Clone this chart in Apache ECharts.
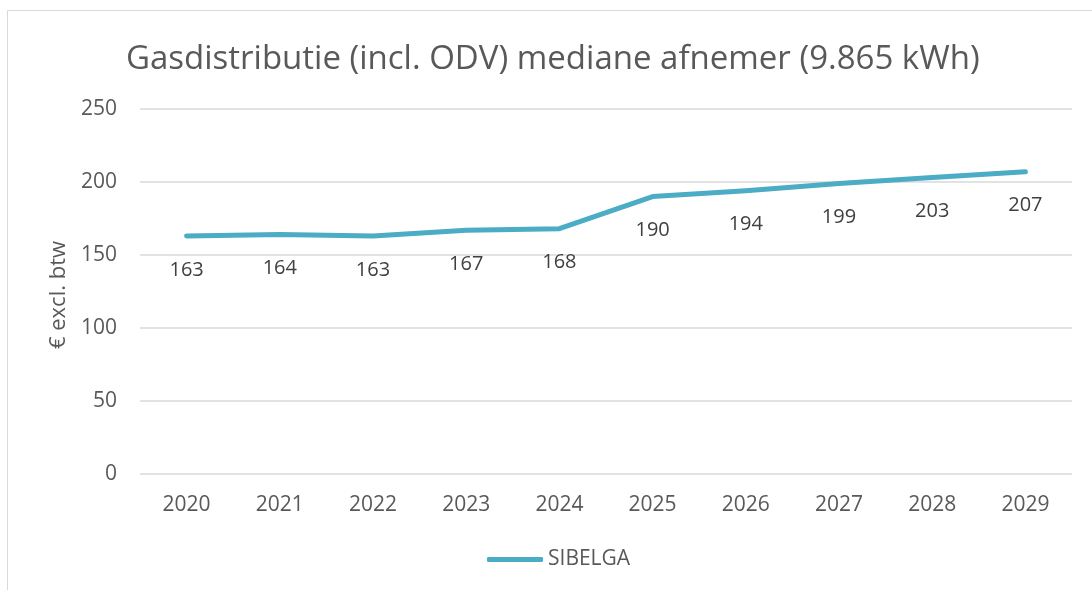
<!DOCTYPE html>
<html>
<head>
<meta charset="utf-8">
<script src="https://cdn.jsdelivr.net/npm/echarts@6/dist/echarts.min.js"></script>
<style>
  html, body { margin: 0; padding: 0; background: #fff; }
  #chart { width: 1092px; height: 590px; }
</style>
</head>
<body>
<div id="chart"></div>
<script>
const years = ['2020', '2021', '2022', '2023', '2024', '2025', '2026', '2027', '2028', '2029']
const sibelga = [163, 164, 163, 167, 168, 190, 194, 199, 203, 207]
const yTicks = { min: 0, max: 250, step: 50 }

const font = 'Open Sans'
const grey = '#595959'
const teal = '#4BACC6'

const chart = echarts.init(document.getElementById('chart'))

chart.setOption({
  animation: false,
  textStyle: { fontFamily: font },
  graphic: [
    // frame of the original chart, cut off at right and bottom
    {
      type: 'rect',
      shape: { x: 7.5, y: 10.5, width: 1200, height: 700 },
      style: { fill: 'none', stroke: '#d9d9d9', lineWidth: 1 },
      silent: true
    },
    {
      type: 'text',
      left: 48,
      top: 'middle',
      rotation: Math.PI / 2,
      style: { text: '€ excl. btw', fill: grey, font: '22px "Open Sans"' }
    }
  ],
  title: {
    text: 'Gasdistributie (incl. ODV) mediane afnemer (9.865 kWh)',
    left: 121,
    top: 38,
    textStyle: { color: grey, fontSize: 33, fontWeight: 'normal', fontFamily: font }
  },
  legend: {
    top: 544,
    left: 482,
    itemWidth: 56,
    itemHeight: 5,
    itemGap: 4,
    icon: 'roundRect',
    textStyle: { color: grey, fontSize: 21, fontFamily: font },
    data: ['SIBELGA']
  },
  grid: { left: 140, right: 20, top: 109, bottom: 116 },
  xAxis: {
    type: 'category',
    data: years,
    boundaryGap: true,
    axisLine: { show: false },
    axisTick: { show: false },
    axisLabel: { color: grey, fontSize: 21, margin: 21 }
  },
  yAxis: {
    type: 'value',
    min: yTicks.min,
    max: yTicks.max,
    interval: yTicks.step,
    axisLine: { show: false },
    axisTick: { show: false },
    axisLabel: { color: grey, fontSize: 21, margin: 23 },
    splitLine: { lineStyle: { color: '#d9d9d9', width: 1.5 } }
  },
  series: [
    {
      name: 'SIBELGA',
      type: 'line',
      data: sibelga,
      symbol: 'circle',
      symbolSize: 0,
      showAllSymbol: true,
      color: teal,
      lineStyle: { width: 5, color: teal, cap: 'round', join: 'round' },
      label: {
        show: true,
        position: 'bottom',
        distance: 24,
        color: '#404040',
        fontSize: 20,
        fontFamily: font
      }
    }
  ]
})
</script>
</body>
</html>
